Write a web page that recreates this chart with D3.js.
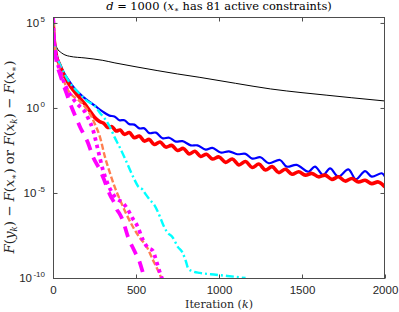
<!DOCTYPE html>
<html><head><meta charset="utf-8">
<script src="https://cdn.jsdelivr.net/npm/d3@7"></script>
<style>body{margin:0;background:#fff}svg{display:block}</style>
</head><body>
<svg id="c" width="399" height="312"></svg>
<script>
// Data: iteration k and log10 of the objective gap
const blackK = [0,5,12,24,50,72,100,193,300,373,500,627,750,885,1100,1310,1500,1650,1800,2000];
const blackE = [5.6,4.5,3.9,3.53,3.25,3.12,3.04,2.94,2.8,2.65,2.42,2.2,2.0,1.8,1.45,1.12,0.9,0.75,0.6,0.41];

const blueK = [0,5,12,25,45,70,100,130,160,200,250,300,340,370,400,430,460,490,520,550,580,620,660,700,740,780,830,870,920,960,1010,1060,1110,1160,1200,1250,1300,1367,1408,1468,1538,1578,1628,1669,1719,1779,1825,1880,1920,1980,2000];
const blueE = [5.6,4.4,3.7,3.0,2.5,2.0,1.55,1.15,0.85,0.5,0.15,-0.22,-0.45,-0.5,-0.72,-0.72,-0.95,-0.98,-1.2,-1.2,-1.48,-1.45,-1.78,-1.75,-1.98,-1.95,-2.2,-2.2,-2.45,-2.35,-2.62,-2.55,-2.72,-2.7,-2.98,-2.9,-3.25,-3.06,-3.45,-3.35,-3.75,-3.45,-3.94,-3.55,-4.04,-3.61,-4.19,-3.71,-4.04,-3.84,-4.04];

const redK = [0,5,12,25,42,70,110,150,190,220,250,280,305,330,355,380,405,430,460,490,520,550,580,610,645,680,715,750,785,820,855,890,925,960,1000,1040,1080,1120,1160,1200,1240,1280,1320,1360,1400,1440,1480,1520,1560,1600,1640,1680,1720,1760,1800,1840,1880,1920,1960,2000];
const redE = [5.6,4.3,3.6,2.9,2.5,1.85,1.2,0.72,0.25,-0.15,-0.55,-0.8,-0.9,-1.15,-1.1,-1.35,-1.3,-1.55,-1.45,-1.75,-1.65,-1.95,-1.85,-2.15,-2.0,-2.3,-2.2,-2.5,-2.38,-2.7,-2.55,-2.85,-2.72,-3.0,-2.88,-3.2,-3.0,-3.35,-3.15,-3.5,-3.3,-3.65,-3.45,-3.8,-3.6,-3.9,-3.75,-3.95,-3.85,-4.05,-3.95,-4.2,-4.05,-4.3,-4.15,-4.35,-4.25,-4.45,-4.35,-4.65];

const cyanK = [0,5,12,25,45,70,100,150,200,253,283,310,343,370,404,435,464,490,512,540,560,584,610,645,665,687,720,753,780,800,815,840,885,950,1050,1160];
const cyanE = [5.6,4.4,3.7,3.0,2.5,2.0,1.5,0.94,0.45,0.1,-0.29,-0.6,-1.12,-1.7,-2.35,-3.0,-3.65,-4.2,-4.6,-4.8,-5.1,-5.41,-5.7,-6.41,-6.9,-7.3,-7.6,-8.18,-8.5,-9.0,-9.45,-9.6,-9.7,-9.78,-9.88,-10.0];

const orangeK = [0,5,12,24,42,84,114,150,190,220,250,283,313,343,370,404,440,482,520,566,600,630,657];
const orangeE = [5.6,4.2,3.5,2.82,2.3,1.15,0.75,0.5,0.1,-0.3,-0.9,-1.71,-2.88,-3.82,-4.6,-5.41,-6.2,-7.0,-7.6,-8.18,-8.9,-9.5,-10.1];

const magDotK = [0,5,12,24,45,80,120,160,190,211,241,271,301,331,343,380,422,446,480,506,542,570,602,615,632,648,660];
const magDotE = [5.6,4.2,3.5,2.8,2.1,1.2,0.55,0.1,-0.2,-0.59,-1.29,-2.47,-3.65,-4.5,-4.75,-5.3,-5.59,-5.9,-6.5,-6.9,-7.76,-8.2,-8.4,-8.76,-9.3,-9.8,-10.1];

const magDashK = [0,5,12,24,45,80,114,140,163,181,211,241,283,325,343,370,386,400,420,452,490,524,542,555];
const magDashE = [5.6,4.0,3.3,2.6,1.9,0.9,0.0,-0.6,-1.12,-1.47,-2.06,-2.88,-3.65,-4.65,-5.1,-5.6,-6.0,-6.2,-6.6,-7.59,-8.4,-9.12,-9.7,-10.1];

const xTicks = [0,500,1000,1500,2000];
const yTickExp = [5,0,-5,-10];

const W = 399, H = 312;
const m = {l:53, r:385, t:17, b:278};
const svg = d3.select('#c');

const x = d3.scaleLinear().domain([0,2000]).range([m.l, m.r]);
const y = d3.scaleLog().domain([1e-10, Math.pow(10,5.35)]).range([m.b, m.t]);

svg.append('defs').append('clipPath').attr('id','clip')
  .append('rect').attr('x',m.l).attr('y',m.t).attr('width',m.r-m.l).attr('height',m.b-m.t);

function pts(K,E){ return K.map((k,i)=>[k, Math.pow(10,E[i])]); }
const lineM = d3.line().x(d=>x(d[0])).y(d=>y(d[1])).curve(d3.curveMonotoneX);
const lineC = d3.line().x(d=>x(d[0])).y(d=>y(d[1])).curve(d3.curveCatmullRom.alpha(0.5));

const series = [
  {K:blackK,E:blackE,c:'#000',w:1,da:null,l:lineM},
  {K:blueK,E:blueE,c:'#0000ff',w:2.2,da:null,l:lineC},
  {K:redK,E:redE,c:'#ff0000',w:3.6,da:null,l:lineC},
  {K:cyanK,E:cyanE,c:'#00ffff',w:2.4,da:'8,3,2,3',l:lineM},
  {K:orangeK,E:orangeE,c:'#ff7f50',w:2.4,da:'6,2.5',l:lineM},
  {K:magDotK,E:magDotE,c:'#ff00ff',w:3.8,da:'3.5,4',l:lineM},
  {K:magDashK,E:magDashE,c:'#ff00ff',w:3.8,da:'11,8',l:lineM}
];
const g = svg.append('g').attr('clip-path','url(#clip)');
series.forEach(s=>{
  g.append('path').datum(pts(s.K,s.E)).attr('d',s.l)
   .attr('fill','none').attr('stroke',s.c).attr('stroke-width',s.w)
   .attr('stroke-dasharray',s.da).attr('stroke-linejoin','round');
});

// axes box
const ax = svg.append('g').attr('stroke','#4d4d4d').attr('stroke-width',1).attr('fill','none');
ax.append('rect').attr('x',m.l+0.5).attr('y',m.t+0.5).attr('width',m.r-m.l-1).attr('height',m.b-m.t);

const sans = 'Liberation Sans, Arial, sans-serif';
// x ticks (inside, bottom and top)
const xAxisB = d3.axisBottom(x).tickValues(xTicks).tickSizeInner(-4).tickSizeOuter(0).tickPadding(0).tickFormat(d3.format('d'));
const gxb = svg.append('g').attr('transform',`translate(0,${m.b+0.5})`).call(xAxisB);
gxb.select('.domain').remove();
gxb.selectAll('line').attr('stroke','#4d4d4d');
gxb.selectAll('text').attr('y',15).attr('dy',null).attr('font-family',sans).attr('font-size',11.5).attr('fill','#262626');
const xAxisT = d3.axisTop(x).tickValues(xTicks.slice(1,4)).tickSizeInner(-4).tickSizeOuter(0).tickFormat('');
const gxt = svg.append('g').attr('transform',`translate(0,${m.t+0.5})`).call(xAxisT);
gxt.select('.domain').remove();
gxt.selectAll('line').attr('stroke','#4d4d4d');

// y ticks
const yVals = yTickExp.map(e=>Math.pow(10,e));
const yAxisL = d3.axisLeft(y).tickValues(yVals).tickSizeInner(-4).tickSizeOuter(0).tickFormat('');
const gyl = svg.append('g').attr('transform',`translate(${m.l+0.5},0)`).call(yAxisL);
gyl.select('.domain').remove();
gyl.selectAll('line').attr('stroke','#4d4d4d');
const yAxisR = d3.axisRight(y).tickValues(yVals).tickSizeInner(-4).tickSizeOuter(0).tickFormat('');
const gyr = svg.append('g').attr('transform',`translate(${m.r-0.5},0)`).call(yAxisR);
gyr.select('.domain').remove();
gyr.selectAll('line').attr('stroke','#4d4d4d');

// y tick labels 10^e
yTickExp.forEach(e=>{
  const t = svg.append('text').attr('x',m.l-8).attr('y',y(Math.pow(10,e))+4)
    .attr('text-anchor','end').attr('font-family',sans)
    .attr('font-size',11.5).attr('fill','#262626');
  t.append('tspan').text('10');
  t.append('tspan').attr('dx',1.5).attr('dy',-5).attr('font-size',8).text(String(e));
});

const serif = 'DejaVu Serif, Liberation Serif, serif';
function fit(sel, target){
  const w = sel.node().getComputedTextLength();
  const fs = +sel.attr('font-size');
  sel.attr('font-size', fs*target/w);
}
// title
const title = svg.append('text').attr('x',219).attr('y',10).attr('text-anchor','middle')
  .attr('font-family',serif).attr('font-size',11).attr('fill','#000');
title.append('tspan').attr('font-style','italic').text('d');
title.append('tspan').text(' = 1000  (');
title.append('tspan').attr('font-style','italic').text('x');
title.append('tspan').attr('font-size','0.65em').attr('dy',2).text('∗');
title.append('tspan').attr('dy',-2).text(' has 81 active constraints)');
fit(title, 226);

// x label
const xl = svg.append('text').attr('x',219).attr('y',308).attr('text-anchor','middle')
  .attr('font-family',serif).attr('font-size',11).attr('fill','#262626');
xl.append('tspan').text('Iteration (');
xl.append('tspan').attr('font-style','italic').text('k');
xl.append('tspan').text(')');
fit(xl, 68);

// y label
const yl = svg.append('text').attr('transform','translate(14,157) rotate(-90)').attr('text-anchor','middle')
  .attr('font-family',serif).attr('font-size',11).attr('fill','#262626');
function it(s){ yl.append('tspan').attr('font-style','italic').text(s); }
function rm(s){ yl.append('tspan').text(s); }
function sub(s){ yl.append('tspan').attr('font-style','italic').attr('font-size','0.65em').attr('dy',2.5).text(s); }
function up(){ return yl.append('tspan').attr('dy',-2.5); }
it('F'); rm('('); it('y'); sub('k'); up().text(')'); rm(' − '); it('F'); rm('('); it('x'); sub('∗'); up().text(')');
rm(' or '); it('F'); rm('('); it('x'); sub('k'); up().text(')'); rm(' − '); it('F'); rm('('); it('x'); sub('∗'); up().text(')');
fit(yl, 193);
</script>
</body></html>
